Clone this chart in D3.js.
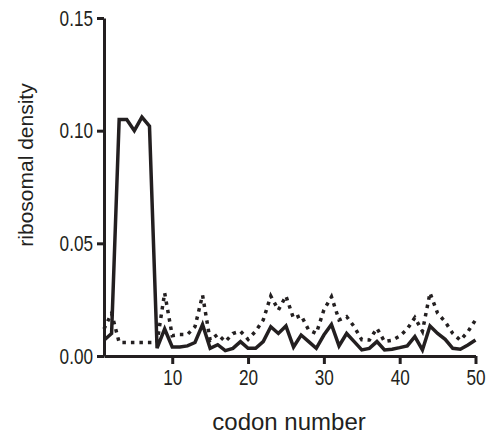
<!DOCTYPE html>
<html>
<head>
<meta charset="utf-8">
<script src="https://cdn.jsdelivr.net/npm/d3@7"></script>
<style>
  body { margin: 0; background: #fff; }
  svg text { fill: #231f20; }
</style>
</head>
<body>
<svg id="chart" width="493" height="437"></svg>
<script>
// codon positions 1..50
const codons = d3.range(1, 51);

// solid line (ribosomal density)
const solidValues = [0.007, 0.010, 0.105, 0.105, 0.100, 0.106, 0.102, 0.0035, 0.012, 0.004,
  0.004, 0.0045, 0.006, 0.014, 0.0034, 0.005, 0.0024, 0.0034, 0.0064, 0.0034,
  0.0034, 0.0064, 0.013, 0.010, 0.0133, 0.004, 0.0093, 0.0064, 0.0034, 0.0093,
  0.014, 0.0045, 0.010, 0.0064, 0.0027, 0.0034, 0.0064, 0.0027, 0.003, 0.0037,
  0.0045, 0.0086, 0.0027, 0.0133, 0.010, 0.0074, 0.0034, 0.003, 0.0049, 0.0071];

// dotted line
const dottedValues = [0.012, 0.019, 0.006, 0.006, 0.006, 0.006, 0.006, 0.006, 0.028, 0.009,
  0.0095, 0.0095, 0.013, 0.027, 0.007, 0.0096, 0.0064, 0.010, 0.011, 0.0074,
  0.011, 0.016, 0.0266, 0.0204, 0.0266, 0.0167, 0.018, 0.0115, 0.010, 0.0204,
  0.0263, 0.016, 0.0175, 0.013, 0.0072, 0.0071, 0.0123, 0.0064, 0.007, 0.0088,
  0.012, 0.017, 0.011, 0.028, 0.019, 0.0152, 0.010, 0.007, 0.0108, 0.016];

const xTicks = [10, 20, 30, 40, 50];
const yTicks = [0, 0.05, 0.10, 0.15];

const ink = '#231f20';
const narrow = 0.78; // tick labels in the original are a condensed face
const svg = d3.select('#chart');

const x = d3.scaleLinear().domain([1, 50]).range([104, 475.5]);
const y = d3.scaleLinear().domain([0, 0.15]).range([356, 18]);

const line = (vals) => d3.line()
  .x((d, i) => x(codons[i]))
  .y(d => y(d))(vals);

svg.append('path')
  .attr('d', line(dottedValues))
  .attr('fill', 'none')
  .attr('stroke', ink)
  .attr('stroke-width', 3.5)
  .attr('stroke-dasharray', '3.5,5');

svg.append('path')
  .attr('d', line(solidValues))
  .attr('fill', 'none')
  .attr('stroke', ink)
  .attr('stroke-width', 3.5)
  .attr('stroke-linejoin', 'miter');

// axes
const xAxis = svg.append('g')
  .attr('transform', `translate(0,${y(0)})`)
  .call(d3.axisBottom(x).tickValues(xTicks).tickSize(8).tickSizeOuter(0).tickPadding(5));

const yAxis = svg.append('g')
  .attr('transform', `translate(${x(1)},0)`)
  .call(d3.axisLeft(y).tickValues(yTicks).tickFormat(d3.format('.2f')).tickSize(7).tickSizeOuter(0));

[xAxis, yAxis].forEach(g => {
  g.select('.domain').attr('stroke', ink).attr('stroke-width', 3);
  g.selectAll('.tick line').attr('stroke', ink).attr('stroke-width', 3);
  g.selectAll('.tick text')
    .attr('fill', ink)
    .attr('transform', `scale(${narrow},1)`)
    .style('font-family', '"Liberation Sans", Arial, sans-serif')
    .style('font-size', '22px');
});
yAxis.selectAll('.tick text').attr('x', -11 / narrow);

svg.append('text')
  .attr('x', 289)
  .attr('y', 430)
  .attr('text-anchor', 'middle')
  .style('font-family', '"Liberation Sans", Arial, sans-serif')
  .style('font-size', '24px')
  .text('codon number');

svg.append('text')
  .attr('transform', 'translate(33,165) rotate(-90)')
  .attr('text-anchor', 'middle')
  .style('font-family', '"Liberation Sans", Arial, sans-serif')
  .style('font-size', '21px')
  .text('ribosomal density');
</script>
</body>
</html>
